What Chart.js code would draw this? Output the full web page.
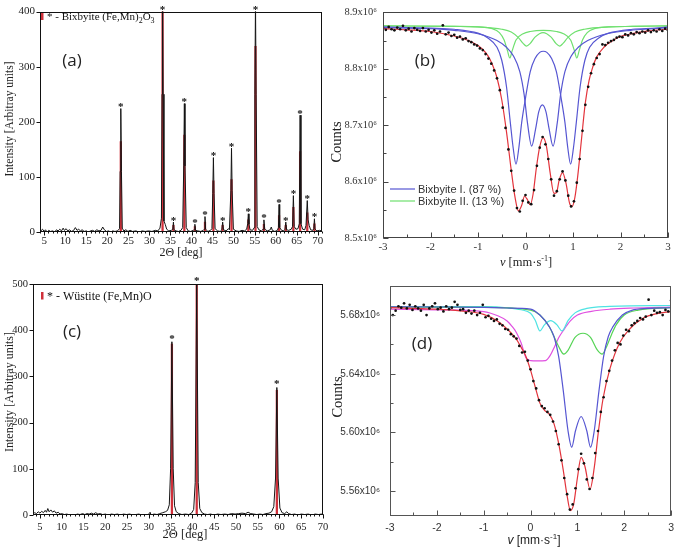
<!DOCTYPE html>
<html>
<head>
<meta charset="utf-8">
<title>XRD and Mössbauer spectra</title>
<script src="https://cdn.jsdelivr.net/npm/chart.js"></script>
<style>
  body { margin: 0; background: #fff; }
  #wrap { position: relative; width: 680px; height: 549px; overflow: hidden; }
  canvas { position: absolute; }
</style>
</head>
<body>
<div id="wrap">
  <canvas id="chartA" width="340" height="270" style="left:0;top:0"></canvas>
  <canvas id="chartC" width="340" height="279" style="left:0;top:270px"></canvas>
  <canvas id="chartB" width="355" height="270" style="left:325px;top:0"></canvas>
  <canvas id="chartD" width="355" height="279" style="left:325px;top:270px"></canvas>
</div>
<script>
// (a) XRD scan, bixbyite sample: [2theta, intensity]
const aScan = [[4.2,2],[4.6,5],[5.0,1],[5.3,4],[5.7,0],[6.1,3],[6.5,1],[7.0,2],[7.5,0],[7.9,4],[8.3,2],[8.7,5],[9.1,2],[9.5,7],[9.8,3],[10.2,6],[10.6,2],[11.0,4],[11.5,1],[12.0,3],[12.4,8],[12.8,3],[13.2,5],[13.6,2],[14.0,4],[14.5,1],[15.0,2],[15.5,0],[16.0,2],[16.5,3],[17.0,1],[17.5,4],[18.0,2],[18.5,3],[18.9,9],[19.3,4],[19.8,1],[20.3,2],[20.8,0],[21.3,2],[21.8,1],[22.4,2],[22.9,6],[23.05,110],[23.2,224],[23.35,110],[23.55,7],[23.9,2],[24.4,4],[24.9,1],[25.4,3],[26.0,1],[26.8,2],[27.5,0],[28.3,2],[29.0,1],[29.8,2],[30.6,1],[31.4,3],[32.0,2],[32.5,7],[32.85,25],[33.0,250],[33.12,420],[33.25,250],[33.45,20],[33.75,14],[34.1,5],[34.6,2],[35.2,3],[35.55,5],[35.7,18],[35.85,4],[36.3,2],[36.9,1],[37.5,3],[37.9,8],[38.15,120],[38.3,233],[38.45,120],[38.75,8],[39.2,2],[39.8,1],[40.4,3],[40.65,4],[40.8,14],[40.95,3],[41.5,2],[42.2,1],[42.8,3],[43.05,5],[43.2,28],[43.35,5],[43.9,1],[44.5,3],[44.85,6],[45.05,70],[45.2,135],[45.35,70],[45.6,6],[46.2,2],[46.8,1],[47.2,4],[47.4,18],[47.6,4],[48.2,2],[48.8,6],[49.0,4],[49.35,75],[49.5,152],[49.65,75],[49.95,5],[50.6,2],[51.3,1],[52.0,3],[52.6,2],[53.1,5],[53.35,15],[53.5,33],[53.65,14],[53.9,4],[54.5,3],[54.9,8],[55.05,250],[55.2,420],[55.35,250],[55.6,10],[56.0,4],[56.6,2],[57.0,5],[57.2,22],[57.4,5],[58.0,2],[58.7,4],[58.95,9],[59.2,3],[59.8,1],[60.4,3],[60.65,8],[60.8,50],[60.95,8],[61.4,3],[61.9,2],[62.2,5],[62.4,18],[62.6,4],[63.1,3],[63.7,5],[64.0,10],[64.2,66],[64.4,10],[64.8,5],[65.3,6],[65.6,15],[65.8,212],[66.0,15],[66.4,5],[66.9,4],[67.2,12],[67.5,57],[67.7,22],[67.95,12],[68.3,4],[68.8,3],[69.05,6],[69.2,24],[69.35,5],[69.8,2],[70.4,3],[71.0,2]];
// reference lines (red sticks), bixbyite
const aRefPos = [23.2, 33.12, 35.7, 38.3, 40.8, 43.2, 45.2, 47.4, 49.5, 53.5, 55.2, 57.2, 60.8, 62.4, 64.2, 65.8, 67.5, 69.2];
const aRefInt = [164, 400, 12, 176, 10, 18, 93, 12, 95, 22, 337, 14, 30, 12, 45, 146, 35, 15];
const aXTicks = [5, 10, 15, 20, 25, 30, 35, 40, 45, 50, 55, 60, 65, 70];
const aYTicks = [0, 100, 200, 300, 400];

// (c) XRD scan, wustite sample
const cScan = [[3.4,2],[3.8,5],[4.2,3],[4.6,7],[5.0,4],[5.4,8],[5.8,5],[6.2,10],[6.5,6],[6.8,14],[7.1,7],[7.5,11],[7.9,6],[8.3,9],[8.7,4],[9.2,6],[9.6,2],[10.0,3],[10.6,1],[11.2,2],[11.8,0],[12.4,1],[13.0,0],[13.6,2],[14.2,1],[14.8,3],[15.3,1],[15.8,3],[16.3,2],[16.8,4],[17.3,2],[17.8,5],[18.3,2],[18.8,3],[19.4,1],[20.0,2],[20.7,0],[21.4,2],[22.1,1],[22.8,2],[23.5,0],[24.2,2],[24.9,1],[25.6,2],[26.3,0],[27.0,1],[27.7,2],[28.4,0],[29.1,1],[29.8,0],[30.3,6],[30.5,0],[31.2,2],[31.9,1],[32.5,3],[33.2,5],[33.8,7],[34.3,10],[34.7,22],[35.0,100],[35.3,375],[35.6,100],[35.9,20],[36.3,7],[36.9,3],[37.6,1],[38.4,2],[39.2,1],[39.8,4],[40.3,12],[40.65,70],[41.0,500],[41.35,70],[41.7,14],[42.2,5],[42.8,2],[43.5,1],[44.2,2],[45.0,0],[45.8,2],[46.6,1],[47.4,2],[48.2,1],[49.0,3],[49.8,2],[50.6,3],[51.4,4],[52.2,3],[52.8,6],[53.4,3],[54.1,2],[54.8,1],[55.5,2],[56.2,1],[56.9,3],[57.6,4],[58.2,7],[58.7,18],[59.1,80],[59.4,276],[59.7,80],[60.1,15],[60.6,5],[61.2,3],[61.7,7],[62.1,3],[62.8,1],[63.5,2],[64.2,0],[65.0,2],[65.8,1],[66.6,2],[67.4,0],[68.2,2],[69.0,1],[69.6,2],[70.0,1]];
const cRefPos = [35.3, 41.0, 59.4];
const cRefInt = [370, 500, 270];
const cXTicks = [5, 10, 15, 20, 25, 30, 35, 40, 45, 50, 55, 60, 65, 70];
const cYTicks = [0, 100, 200, 300, 400, 500];

// (b) Mossbauer, counts in units of 10^6: [velocity mm/s, counts]
const bDots = [[-3.00,8.872],[-2.94,8.869],[-2.88,8.874],[-2.82,8.870],[-2.76,8.868],[-2.70,8.873],[-2.64,8.870],[-2.58,8.876],[-2.52,8.868],[-2.46,8.871],[-2.40,8.866],[-2.34,8.872],[-2.28,8.869],[-2.22,8.867],[-2.16,8.872],[-2.10,8.866],[-2.04,8.869],[-1.98,8.864],[-1.92,8.868],[-1.86,8.862],[-1.80,8.866],[-1.74,8.877],[-1.68,8.861],[-1.62,8.864],[-1.56,8.858],[-1.50,8.860],[-1.44,8.855],[-1.38,8.857],[-1.32,8.852],[-1.26,8.854],[-1.20,8.849],[-1.14,8.847],[-1.08,8.843],[-1.02,8.841],[-0.96,8.836],[-0.90,8.833],[-0.84,8.826],[-0.78,8.818],[-0.72,8.809],[-0.66,8.797],[-0.60,8.783],[-0.54,8.762],[-0.48,8.731],[-0.42,8.695],[-0.36,8.657],[-0.30,8.619],[-0.24,8.584],[-0.18,8.553],[-0.12,8.547],[-0.06,8.566],[0.00,8.576],[0.06,8.563],[0.12,8.560],[0.18,8.585],[0.24,8.628],[0.30,8.660],[0.36,8.679],[0.42,8.666],[0.48,8.640],[0.54,8.604],[0.60,8.575],[0.66,8.583],[0.72,8.604],[0.78,8.618],[0.84,8.602],[0.90,8.575],[0.96,8.556],[1.02,8.565],[1.08,8.598],[1.14,8.640],[1.20,8.690],[1.26,8.736],[1.32,8.768],[1.38,8.792],[1.44,8.808],[1.50,8.819],[1.56,8.826],[1.62,8.843],[1.68,8.842],[1.74,8.846],[1.80,8.849],[1.86,8.851],[1.92,8.855],[1.98,8.857],[2.04,8.856],[2.10,8.861],[2.16,8.859],[2.22,8.863],[2.28,8.861],[2.34,8.865],[2.40,8.863],[2.46,8.866],[2.52,8.864],[2.58,8.868],[2.64,8.865],[2.70,8.868],[2.76,8.866],[2.82,8.870],[2.88,8.867],[2.94,8.871],[3.00,8.868]];
const bFit = [[-3,8.871],[-2.5,8.869],[-2,8.866],[-1.5,8.858],[-1.2,8.850],[-1,8.841],[-0.9,8.834],[-0.8,8.824],[-0.7,8.808],[-0.6,8.784],[-0.5,8.745],[-0.4,8.688],[-0.3,8.620],[-0.22,8.572],[-0.15,8.548],[-0.08,8.558],[-0.02,8.574],[0.04,8.568],[0.10,8.559],[0.16,8.578],[0.23,8.625],[0.30,8.662],[0.37,8.678],[0.44,8.663],[0.52,8.615],[0.60,8.579],[0.65,8.580],[0.71,8.603],[0.78,8.616],[0.85,8.598],[0.93,8.561],[0.98,8.556],[1.04,8.572],[1.10,8.610],[1.18,8.676],[1.26,8.740],[1.34,8.780],[1.42,8.804],[1.50,8.821],[1.65,8.838],[1.80,8.848],[2,8.857],[2.3,8.863],[2.6,8.867],[3,8.870]];
// Bixbyite I (two doublets, blue)
const bBix1Outer = [[-3,8.874],[-2,8.872],[-1.5,8.870],[-1,8.863],[-0.8,8.855],[-0.6,8.838],[-0.5,8.815],[-0.4,8.768],[-0.32,8.705],[-0.26,8.660],[-0.2,8.631],[-0.14,8.660],[-0.08,8.705],[0,8.748],[0.1,8.795],[0.2,8.818],[0.3,8.829],[0.375,8.831],[0.45,8.829],[0.55,8.818],[0.65,8.795],[0.75,8.748],[0.83,8.705],[0.89,8.660],[0.95,8.631],[1.01,8.660],[1.07,8.705],[1.15,8.768],[1.25,8.815],[1.35,8.838],[1.55,8.855],[1.75,8.863],[2.25,8.870],[2.75,8.872],[3,8.874]];
const bBix1Inner = [[-3,8.873],[-2,8.871],[-1.5,8.868],[-1,8.862],[-0.6,8.850],[-0.4,8.838],[-0.25,8.822],[-0.12,8.795],[-0.03,8.755],[0.04,8.705],[0.13,8.663],[0.21,8.692],[0.28,8.724],[0.355,8.736],[0.43,8.724],[0.50,8.692],[0.58,8.663],[0.67,8.705],[0.74,8.755],[0.83,8.795],[0.96,8.822],[1.11,8.838],[1.31,8.850],[1.71,8.862],[2.21,8.868],[2.71,8.871],[3,8.873]];
// Bixbyite II (two doublets, green)
const bBix2Outer = [[-3,8.876],[-1.5,8.875],[-1,8.874],[-0.7,8.871],[-0.55,8.864],[-0.45,8.851],[-0.38,8.832],[-0.33,8.819],[-0.28,8.832],[-0.2,8.851],[-0.05,8.862],[0.1,8.866],[0.375,8.868],[0.65,8.866],[0.8,8.862],[0.95,8.851],[1.03,8.832],[1.08,8.819],[1.13,8.832],[1.2,8.851],[1.3,8.864],[1.45,8.871],[1.75,8.874],[2.25,8.875],[3,8.876]];
const bBix2Inner = [[-3,8.876],[-1.5,8.875],[-1,8.874],[-0.5,8.870],[-0.3,8.865],[-0.15,8.855],[-0.05,8.845],[0.02,8.840],[0.1,8.845],[0.2,8.856],[0.37,8.864],[0.54,8.856],[0.64,8.845],[0.72,8.840],[0.79,8.845],[0.89,8.855],[1.04,8.865],[1.24,8.870],[1.75,8.874],[2.25,8.875],[3,8.876]];
const bXTicks = [-3, -2, -1, 0, 1, 2, 3];
const bYTicks = [8.5, 8.6, 8.7, 8.8, 8.9];

// (d) Mossbauer, counts in units of 10^6
const dDots = [[-3.00,5.6845],[-2.94,5.6800],[-2.88,5.6830],[-2.82,5.6860],[-2.76,5.6850],[-2.70,5.6880],[-2.64,5.6845],[-2.58,5.6870],[-2.52,5.6835],[-2.46,5.6860],[-2.40,5.6845],[-2.34,5.6830],[-2.28,5.6870],[-2.22,5.6800],[-2.16,5.6845],[-2.10,5.6860],[-2.04,5.6880],[-1.98,5.6840],[-1.92,5.6850],[-1.86,5.6825],[-1.80,5.6860],[-1.74,5.6840],[-1.68,5.6850],[-1.62,5.6890],[-1.56,5.6870],[-1.50,5.6835],[-1.44,5.6840],[-1.38,5.6815],[-1.32,5.6830],[-1.26,5.6810],[-1.20,5.6830],[-1.14,5.6800],[-1.08,5.6815],[-1.02,5.6870],[-0.96,5.6785],[-0.90,5.6795],[-0.84,5.6775],[-0.78,5.6760],[-0.72,5.6770],[-0.66,5.6740],[-0.60,5.6730],[-0.54,5.6705],[-0.48,5.6700],[-0.42,5.6670],[-0.36,5.6655],[-0.30,5.6640],[-0.24,5.6590],[-0.18,5.6545],[-0.12,5.6550],[-0.06,5.6490],[0.00,5.6430],[0.06,5.6350],[0.12,5.6300],[0.18,5.6220],[0.24,5.6180],[0.30,5.6165],[0.36,5.6140],[0.42,5.6120],[0.48,5.6075],[0.54,5.6010],[0.60,5.5920],[0.66,5.5810],[0.72,5.5690],[0.78,5.5580],[0.84,5.5475],[0.90,5.5510],[0.96,5.5620],[1.02,5.5750],[1.08,5.5855],[1.14,5.5790],[1.20,5.5680],[1.26,5.5615],[1.32,5.5690],[1.38,5.5860],[1.44,5.6010],[1.50,5.6140],[1.56,5.6240],[1.62,5.6350],[1.68,5.6420],[1.74,5.6490],[1.80,5.6560],[1.86,5.6610],[1.92,5.6600],[1.98,5.6660],[2.04,5.6700],[2.10,5.6690],[2.16,5.6730],[2.22,5.6745],[2.28,5.6760],[2.34,5.6780],[2.40,5.6770],[2.46,5.6790],[2.52,5.6905],[2.58,5.6800],[2.64,5.6830],[2.70,5.6815],[2.76,5.6820],[2.82,5.6800],[2.88,5.6835],[2.94,5.6825],[3.00,5.6900]];
const dFit = [[-3,5.6850],[-2.5,5.6845],[-2,5.6840],[-1.5,5.6828],[-1,5.6805],[-0.7,5.6758],[-0.5,5.6705],[-0.3,5.6635],[-0.2,5.6580],[-0.1,5.6520],[0,5.6425],[0.1,5.6310],[0.2,5.6200],[0.3,5.6150],[0.4,5.6125],[0.5,5.6060],[0.6,5.5925],[0.7,5.5740],[0.78,5.5570],[0.85,5.5468],[0.92,5.5510],[1.0,5.5690],[1.08,5.5830],[1.16,5.5770],[1.27,5.5614],[1.36,5.5760],[1.45,5.6010],[1.55,5.6235],[1.7,5.6440],[1.9,5.6610],[2.1,5.6700],[2.4,5.6778],[2.7,5.6810],[3,5.6823]];
const dBlue = [[-3,5.6856],[-2,5.6855],[-1,5.6852],[-0.5,5.6848],[0,5.6841],[0.2,5.6800],[0.4,5.6721],[0.5,5.6654],[0.6,5.6519],[0.7,5.6282],[0.8,5.6012],[0.88,5.5900],[0.96,5.6012],[1.08,5.6109],[1.2,5.6012],[1.28,5.5900],[1.36,5.6012],[1.46,5.6282],[1.56,5.6519],[1.66,5.6654],[1.76,5.6721],[1.96,5.6800],[2.16,5.6832],[2.5,5.6845],[3,5.6850]];
const dGreen = [[-3,5.6856],[-1,5.6853],[0,5.6834],[0.2,5.6800],[0.4,5.6720],[0.5,5.6654],[0.6,5.6586],[0.71,5.6534],[0.8,5.6560],[0.95,5.6648],[1.12,5.6676],[1.28,5.6648],[1.42,5.6565],[1.53,5.6534],[1.63,5.6590],[1.73,5.6668],[1.83,5.6735],[2.0,5.6800],[2.3,5.6834],[3,5.6850]];
const dCyan = [[-3,5.6858],[-1,5.6857],[-0.5,5.6850],[-0.2,5.6836],[0,5.6812],[0.1,5.6765],[0.2,5.6692],[0.3,5.6735],[0.43,5.6762],[0.56,5.6735],[0.67,5.6692],[0.8,5.6762],[0.95,5.6815],[1.2,5.6845],[1.6,5.6858],[3,5.6865]];
const dMagenta = [[-3,5.6840],[-2,5.6836],[-1,5.6824],[-0.7,5.6795],[-0.5,5.6760],[-0.4,5.6725],[-0.3,5.6680],[-0.2,5.6610],[-0.1,5.6510],[0,5.6490],[0.15,5.6488],[0.32,5.6490],[0.42,5.6525],[0.52,5.6590],[0.6,5.6645],[0.7,5.6695],[0.85,5.6760],[1.0,5.6800],[1.3,5.6825],[1.7,5.6840],[2.2,5.6848],[3,5.6855]];
const dXTicks = [-3, -2, -1, 0, 1, 2, 3];
const dYTicks = [5.56, 5.60, 5.64, 5.68];

const SERIF = '"Liberation Serif", serif';
const SANS = '"Liberation Sans", Arial, sans-serif';
const STICK = '#d0303a';
const FIT_RED = '#e3343c';
const BLUE = '#5656d2';
const GREEN = '#6fe06f';
const CYAN = '#4fe3e3';
const MAGENTA = '#e04fe0';

function pairs(list) { return list.map(p => ({ x: p[0], y: p[1] })); }
function pts(xs, ys) { return xs.map((x, i) => ({ x: x, y: ys[i] })); }

// minor tick positions only
function steps(from, to, step) {
  const out = [];
  for (let v = from; v <= to + 1e-9; v += step) out.push(+v.toFixed(4));
  return out;
}

function xAxis(min, max, ticks, h, pad, font, color, fmt) {
  return {
    type: 'linear', min: min, max: max, offset: false,
    grid: { display: false, drawTicks: false }, border: { display: false },
    afterBuildTicks: s => { s.ticks = ticks.map(v => ({ value: v })); },
    afterFit: s => { s.height = h; },
    ticks: { padding: pad, font: font, color: color, maxRotation: 0, autoSkip: false, callback: fmt }
  };
}
function yAxis(min, max, ticks, w, pad, font, color, fmt) {
  return {
    type: 'linear', min: min, max: max,
    grid: { display: false, drawTicks: false }, border: { display: false },
    afterBuildTicks: s => { s.ticks = ticks.map(v => ({ value: v })); },
    afterFit: s => { s.width = w; },
    ticks: { padding: pad, font: font, color: color, autoSkip: false, callback: fmt }
  };
}

function baseOptions(pad, scales) {
  return {
    animation: false, responsive: false, devicePixelRatio: 1, events: [],
    layout: { padding: pad, autoPadding: false },
    plugins: { legend: { display: false }, tooltip: { enabled: false } },
    scales: scales
  };
}

function frame(chart, color) {
  const a = chart.chartArea, ctx = chart.ctx;
  ctx.save();
  ctx.strokeStyle = color; ctx.lineWidth = 1;
  ctx.strokeRect(Math.round(a.left) + 0.5, Math.round(a.top) + 0.5,
    Math.round(a.right - a.left) - 1, Math.round(a.bottom - a.top) - 1);
  ctx.restore();
}

function marks(chart, id, vals, len, inward, color) {
  const s = chart.scales[id], a = chart.chartArea, ctx = chart.ctx;
  ctx.save();
  ctx.strokeStyle = color; ctx.lineWidth = 1;
  ctx.beginPath();
  vals.forEach(v => {
    const p = Math.round(s.getPixelForValue(v)) + 0.5;
    if (id === 'x') {
      const b = Math.round(a.bottom) - 0.5;
      ctx.moveTo(p, b); ctx.lineTo(p, inward ? b - len : b + len);
    } else {
      const l = Math.round(a.left) + 0.5;
      ctx.moveTo(l, p); ctx.lineTo(inward ? l + len : l - len, p);
    }
  });
  ctx.stroke();
  ctx.restore();
}

function label(ctx, s, x, y, font, color, rot) {
  ctx.save();
  ctx.translate(x, y);
  if (rot) ctx.rotate(rot);
  ctx.font = font; ctx.fillStyle = color;
  ctx.textAlign = 'center'; ctx.textBaseline = 'middle';
  ctx.fillText(s, 0, 0);
  ctx.restore();
}

// text made of runs [text, font, dy]; y is the baseline
function runs(ctx, parts, x, y, align, color) {
  ctx.save();
  ctx.fillStyle = color; ctx.textAlign = 'left'; ctx.textBaseline = 'alphabetic';
  let w = 0;
  parts.forEach(p => { ctx.font = p[1]; w += ctx.measureText(p[0]).width; });
  let cx = align === 'center' ? x - w / 2 : x;
  parts.forEach(p => {
    ctx.font = p[1];
    ctx.fillText(p[0], cx, y + (p[2] || 0));
    cx += ctx.measureText(p[0]).width;
  });
  ctx.restore();
}

// a star over each reference peak, placed on the scan maximum nearby
function stars(chart, positions, scan, dy) {
  const sx = chart.scales.x, sy = chart.scales.y, ctx = chart.ctx;
  ctx.save();
  ctx.font = 'bold 11px ' + SERIF; ctx.fillStyle = '#111';
  ctx.textAlign = 'center'; ctx.textBaseline = 'alphabetic';
  positions.forEach(p => {
    let h = 0;
    scan.forEach(q => { if (Math.abs(q[0] - p) <= 0.25 && q[1] > h) h = q[1]; });
    h = Math.min(h, sy.max);
    ctx.fillText('*', sx.getPixelForValue(p), sy.getPixelForValue(h) + dy);
  });
  ctx.restore();
}

function curve(list, color, width) {
  return { data: pairs(list), borderColor: color, borderWidth: width || 1.2, pointRadius: 0,
    cubicInterpolationMode: 'monotone', fill: false };
}
function dots(list) {
  return { data: pairs(list), showLine: false, pointRadius: 1.35, pointBorderWidth: 0,
    pointBackgroundColor: '#111', borderColor: '#111' };
}

// ---------- (a) ----------
new Chart(document.getElementById('chartA'), {
  type: 'line',
  data: { datasets: [
    { data: pairs(aScan), borderColor: '#151515', borderWidth: 1, pointRadius: 0, tension: 0 },
    { type: 'bar', data: pts(aRefPos, aRefInt), backgroundColor: STICK, barThickness: 1.6 }
  ] },
  options: baseOptions({ left: 0, right: 18, top: 8, bottom: 0 }, {
    x: xAxis(4, 71, aXTicks, 38, 3, { family: SERIF, size: 11 }, '#222', v => v),
    y: yAxis(0, 400, aYTicks, 40, 5, { family: SERIF, size: 11 }, '#222', v => v)
  }),
  plugins: [{ id: 'decorA', afterDraw(chart) {
    const ctx = chart.ctx;
    frame(chart, '#111');
    marks(chart, 'x', steps(4, 71, 1), 2, false, '#111');
    marks(chart, 'x', aXTicks, 4, false, '#111');
    marks(chart, 'y', aYTicks, 4, false, '#111');
    stars(chart, aRefPos, aScan, 1.5);
    ctx.fillStyle = STICK; ctx.fillRect(41, 13, 2.5, 7);
    runs(ctx, [['* - Bixbyite (Fe,Mn)', '11px ' + SERIF], ['2', '8px ' + SERIF, 3],
      ['O', '11px ' + SERIF], ['3', '8px ' + SERIF, 3]], 47, 20, 'left', '#111');
    label(ctx, '(a)', 72, 61, '17px "Open Sans"', '#222');
    label(ctx, 'Intensity [Arbitray units]', 10, 119, '11.5px ' + SERIF, '#222', -Math.PI / 2);
    label(ctx, '2Θ [deg]', 181, 253, '12px ' + SERIF, '#222');
  } }]
});

// ---------- (c) ----------
new Chart(document.getElementById('chartC'), {
  type: 'line',
  data: { datasets: [
    { data: pairs(cScan), borderColor: '#151515', borderWidth: 1, pointRadius: 0, tension: 0 },
    { type: 'bar', data: pts(cRefPos, cRefInt), backgroundColor: STICK, barThickness: 1.6 }
  ] },
  options: baseOptions({ left: 0, right: 17, top: 14, bottom: 0 }, {
    x: xAxis(3.4, 70, cXTicks, 34, 6, { family: SERIF, size: 10.5 }, '#222', v => v),
    y: yAxis(0, 500, cYTicks, 33, 5, { family: SERIF, size: 10.5 }, '#222', v => v)
  }),
  plugins: [{ id: 'decorC', afterDraw(chart) {
    const ctx = chart.ctx;
    frame(chart, '#111');
    marks(chart, 'x', steps(4, 70, 1), 2, false, '#111');
    marks(chart, 'x', cXTicks, 4, false, '#111');
    marks(chart, 'y', cYTicks, 4, false, '#111');
    stars(chart, cRefPos, cScan, 0);
    ctx.fillStyle = STICK; ctx.fillRect(41, 22, 2.5, 7.5);
    runs(ctx, [['* - Wüstite (Fe,Mn)O', '12px ' + SERIF]], 47, 30, 'left', '#111');
    label(ctx, '(c)', 72, 62, '17px "Open Sans"', '#222');
    label(ctx, 'Intensity [Arbitray units]', 10, 122, '12px ' + SERIF, '#222', -Math.PI / 2);
    label(ctx, '2Θ [deg]', 185, 265, '12.5px ' + SERIF, '#222');
  } }]
});

// ---------- (b) ----------
new Chart(document.getElementById('chartB'), {
  type: 'line',
  data: { datasets: [
    dots(bDots),
    curve(bFit, FIT_RED),
    curve(bBix1Outer, BLUE),
    curve(bBix1Inner, BLUE),
    curve(bBix2Outer, GREEN),
    curve(bBix2Inner, GREEN)
  ] },
  options: baseOptions({ left: 0, right: 12, top: 7, bottom: 0 }, {
    x: xAxis(-3, 3, bXTicks, 32, 3, { family: SERIF, size: 11 }, '#333', v => String(v)),
    y: yAxis(8.5, 8.9, bYTicks, 58, 6, { family: SERIF, size: 10.5 }, '#333', v => v.toFixed(1) + 'x10⁶')
  }),
  plugins: [{ id: 'decorB', afterDraw(chart) {
    const ctx = chart.ctx;
    frame(chart, '#444');
    marks(chart, 'x', steps(-3, 3, 0.5), 3, true, '#444');
    marks(chart, 'x', bXTicks, 5, true, '#444');
    marks(chart, 'y', steps(8.5, 8.9, 0.05), 3, true, '#444');
    marks(chart, 'y', bYTicks, 5, true, '#444');
    ctx.save();
    ctx.lineWidth = 1.2;
    ctx.strokeStyle = BLUE; ctx.beginPath(); ctx.moveTo(65, 189); ctx.lineTo(90, 189); ctx.stroke();
    ctx.strokeStyle = GREEN; ctx.beginPath(); ctx.moveTo(65, 201); ctx.lineTo(90, 201); ctx.stroke();
    ctx.restore();
    runs(ctx, [['Bixbyite I. (87 %)', '11px ' + SANS]], 93, 193, 'left', '#333');
    runs(ctx, [['Bixbyite II. (13 %)', '11px ' + SANS]], 93, 205, 'left', '#333');
    label(ctx, '(b)', 100, 61, '17px "Open Sans"', '#222');
    label(ctx, 'Counts', 12, 142, '14.5px ' + SERIF, '#222', -Math.PI / 2);
    runs(ctx, [['v', 'italic 12.5px ' + SERIF], [' [mm·s', '12.5px ' + SERIF], ['-1', '8px ' + SERIF, -5],
      [']', '12.5px ' + SERIF]], 201, 266, 'center', '#222');
  } }]
});

// ---------- (d) ----------
new Chart(document.getElementById('chartD'), {
  type: 'line',
  data: { datasets: [
    dots(dDots),
    curve(dFit, FIT_RED),
    curve(dBlue, BLUE),
    curve(dGreen, '#55d455'),
    curve(dCyan, CYAN),
    curve(dMagenta, MAGENTA)
  ] },
  options: baseOptions({ left: 0, right: 4, top: 14, bottom: 0 }, {
    x: xAxis(-3, 3, dXTicks, 33, 6, { family: SANS, size: 10.5 }, '#333', v => String(v)),
    y: yAxis(5.5431, 5.6998, dYTicks, 65, 10, { family: SANS, size: 10 }, '#333', v => v.toFixed(2) + 'x10⁶')
  }),
  plugins: [{ id: 'decorD', afterDraw(chart) {
    const ctx = chart.ctx;
    frame(chart, '#555');
    marks(chart, 'x', steps(-3, 3, 0.5), 3, true, '#555');
    marks(chart, 'x', dXTicks, 5, true, '#555');
    marks(chart, 'y', steps(5.56, 5.68, 0.02), 3, true, '#555');
    marks(chart, 'y', dYTicks, 5, true, '#555');
    label(ctx, '(d)', 97, 74, '17px "Open Sans"', '#222');
    label(ctx, 'Counts', 13, 127, '14.5px ' + SERIF, '#222', -Math.PI / 2);
    runs(ctx, [['v', 'italic 12px ' + SANS], [' [mm·s', '12px ' + SANS], ['-1', '8px ' + SANS, -5],
      [']', '12px ' + SANS]], 209, 274, 'center', '#222');
  } }]
});
</script>
</body>
</html>
